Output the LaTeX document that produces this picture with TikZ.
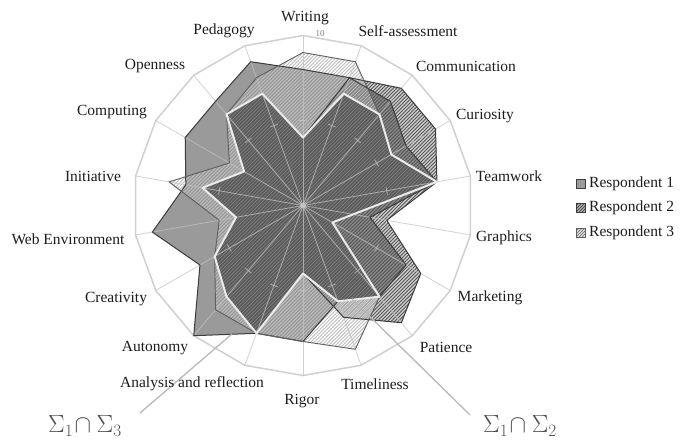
\documentclass[tikz,border=0pt]{standalone}
\usepackage{fontspec}
\setmainfont{Liberation Serif}
\usetikzlibrary{calc}
\definecolor{gridc}{RGB}{208,208,208}
\definecolor{spokec}{RGB}{195,195,195}
\definecolor{rone}{RGB}{154,154,154}
\definecolor{roneline}{RGB}{60,60,60}
\definecolor{rtwo}{RGB}{100,100,100}
\definecolor{rtwohatch}{RGB}{85,85,85}
\definecolor{rthreehatch}{RGB}{190,190,190}
\definecolor{rthreeline}{RGB}{95,95,95}
\definecolor{textc}{RGB}{30,30,30}
\definecolor{sigc}{RGB}{80,80,80}
\definecolor{leaderc}{RGB}{185,185,185}
\newcommand\mkpoly[2]{\foreach \v [count=\i from 0] in {#2}{\coordinate (#1\i) at ($(C)+({-90+20*\i}:{17*\v})$);}}
\newcommand\hatchpoly[3]{%
  \begin{scope}
  \clip (#10) \foreach \i in {1,...,17}{-- (#1\i)} -- cycle;
  \foreach \x in {-300,-296.5,...,520} \draw[#2, line width=#3] (\x,400) -- ++(380,-380);
  \end{scope}}
\begin{document}
\begin{tikzpicture}[x=1pt,y=-1pt,
  lab/.style={font=\fontsize{15.5}{17}\selectfont, text=textc, inner sep=0pt},
  leg/.style={font=\fontsize{15.5}{17}\selectfont, text=textc, inner sep=0pt, anchor=west},
  sig/.style={font=\fontsize{27}{30}\selectfont, text=sigc, inner sep=0pt},
  tick/.style={font=\fontsize{9}{10}\selectfont, text=gray, inner sep=0pt}]
\useasboundingbox (0,0) rectangle (680,447);
\fill[white] (0,0) rectangle (680,447);
\coordinate (C) at (303,205.5);
% outer ring
\mkpoly{g}{10,10,10,10,10,10,10,10,10,10,10,10,10,10,10,10,10,10}
\draw[gridc, line width=1.5pt, line join=miter] (g0) \foreach \i in {1,...,17}{-- (g\i)} -- cycle;
% series values (Writing, Self-assessment, ... clockwise)
\mkpoly{a}{8,8,8,7,8,4,7,7,6,8,8,10,7,9,7,8,8,9}
\mkpoly{b}{4,8,9,9,8,5,8,9,7,4,8,7,6,4,6,4,7,7}
\mkpoly{c}{9,9,7,6,8,3,2,7,9,8,8,8,6,5,8,5,7,8}
\mkpoly{w}{4,7,7,6,8,3,2,7,6,4,8,7,6,4,6,4,7,7}
% Respondent 1: solid gray
\fill[rone] (a0) \foreach \i in {1,...,17}{-- (a\i)} -- cycle;
% Respondent 2: medium hatch
\fill[rtwo, opacity=0.3] (b0) \foreach \i in {1,...,17}{-- (b\i)} -- cycle;
\hatchpoly{b}{rtwohatch}{0.8pt}
% Respondent 3: light hatch
\hatchpoly{c}{rthreehatch}{1pt}
% common core
\fill[black, opacity=0.33] (w0) \foreach \i in {1,...,17}{-- (w\i)} -- cycle;
% spokes and ticks
\foreach \i in {0,...,17}{
  \draw[spokec, line width=0.8pt, opacity=0.75] (C) -- (g\i);
  \draw[spokec, line width=0.8pt, opacity=0.75] ($(C)+({-90+20*\i}:85)+({20*\i}:4)$) -- ($(C)+({-90+20*\i}:85)+({20*\i}:-4)$);
}
\fill[spokec] (C) circle (3);
% outlines
\draw[roneline, line width=1pt, line join=round] (a0) \foreach \i in {1,...,17}{-- (a\i)} -- cycle;
\draw[roneline, line width=1pt, line join=round] (b0) \foreach \i in {1,...,17}{-- (b\i)} -- cycle;
\draw[rthreeline, line width=0.9pt, line join=round] (c0) \foreach \i in {1,...,17}{-- (c\i)} -- cycle;
\draw[white!92!black, line width=2pt, line join=round] (w0) \foreach \i in {1,...,17}{-- (w\i)} -- cycle;
\node[tick] (t0) at (314,206) {0};
\node[tick] (t10) at (320,34) {10};
% leader lines
\coordinate (ls3) at (140,413);
\coordinate (le3) at (232,334);
\coordinate (ls2) at (470,415);
\coordinate (le2) at (352,299);
\draw[leaderc, line width=1.3pt] (ls3) -- (le3);
\draw[leaderc, line width=1.3pt] (ls2) -- (le2);
% labels
\node[lab] (lW) at (305,18) {Writing};
\node[lab] (lS) at (408,31) {Self-assessment};
\node[lab] (lCo) at (466,66) {Communication};
\node[lab] (lCu) at (485,116) {Curiosity};
\node[lab] (lT) at (509,176) {Teamwork};
\node[lab] (lG) at (504,238) {Graphics};
\node[lab] (lM) at (490,298) {Marketing};
\node[lab] (lP) at (446,347) {Patience};
\node[lab] (lTi) at (375,384) {Timeliness};
\node[lab] (lR) at (302,401) {Rigor};
\node[lab] (lA) at (192,384) {Analysis and reflection};
\node[lab] (lAu) at (155,348) {Autonomy};
\node[lab] (lCr) at (116,299) {Creativity};
\node[lab] (lWe) at (68,239) {Web Environment};
\node[lab] (lI) at (93,176) {Initiative};
\node[lab] (lCm) at (112,112) {Computing};
\node[lab] (lO) at (155,66) {Openness};
\node[lab] (lPe) at (224,31) {Pedagogy};
% sigma labels
\node[sig] (s13) at (85,426) {$\Sigma_1\!\cap\Sigma_3$};
\node[sig] (s12) at (520,426) {$\Sigma_1\!\cap\Sigma_2$};
% legend
\filldraw[fill=rone, draw=roneline, line width=1pt] (576,179) rectangle (585,188);
\fill[rone!75] (576,203) rectangle (585,212);
\foreach \d in {0,3,6,9,12,15} {\begin{scope}\clip (576,203) rectangle (585,212); \draw[rtwohatch, line width=0.9pt] (576+\d-9,212) -- ++(9,-9); \end{scope}}
\draw[roneline, line width=1pt] (576,203) rectangle (585,212);
\fill[white!92!black] (576,228) rectangle (585,237);
\foreach \d in {0,3,6,9,12,15} {\begin{scope}\clip (576,228) rectangle (585,237); \draw[gray, line width=0.9pt] (576+\d-9,237) -- ++(9,-9); \end{scope}}
\draw[rthreeline, line width=1pt] (576,228) rectangle (585,237);
\node[leg] (l1) at (589,184) {Respondent 1};
\node[leg] (l2) at (589,208) {Respondent 2};
\node[leg] (l3) at (589,233) {Respondent 3};
\end{tikzpicture}
\end{document}
